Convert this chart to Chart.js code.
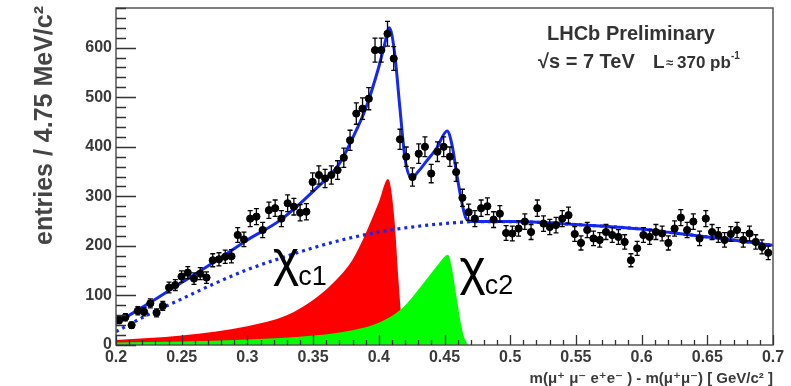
<!DOCTYPE html>
<html>
<head>
<meta charset="utf-8">
<script src="https://cdn.jsdelivr.net/npm/chart.js@4"></script>
<style>
html,body{margin:0;padding:0;background:#fff;}
canvas{display:block;}
</style>
</head>
<body>
<canvas id="c" width="791" height="386"></canvas>
<script>
// ---- data ----
const binStart = 0.2;
const binWidth = 0.00475; // 4.75 MeV/c^2 bins
const counts = [
  50, 56, 40, 69, 67, 84, 65, 79, 116, 121, 138, 146, 134, 144, 136, 171, 173, 178, 179, 222, 213, 255, 259,
  232, 272, 276, 255, 286, 279, 267, 269,
  329, 343, 336, 343, 353, 378, 413, 467, 477, 497,
  595, 595, 628, 578, 415, 380, 339, 386, 400, 346, 390, 400, 380, 349, 297, 268,
  255, 276, 280, 253, 265, 226, 225, 235, 249, 228, 276, 245, 238, 242, 255, 262, 224, 206, 232, 215,
  212, 228, 222, 218, 208, 171, 195, 222, 218, 228, 225, 206, 235, 257, 232, 249, 215, 255, 228, 222,
  212, 224, 232, 212, 225, 208, 198, 186
];
const binCenters = counts.map((_, i) => +(binStart + binWidth * (i + 0.5)).toFixed(6));

// total fit (solid blue)
const fitX = [0.2,0.225,0.25,0.275,0.3,0.325,0.35,0.37,0.38,0.39,0.4,0.404,0.408,0.412,0.416,0.42,0.425,0.43,0.436,0.444,0.452,0.456,0.459,0.463,0.466,0.47,0.475,0.5,0.525,0.55,0.575,0.6,0.625,0.65,0.675,0.7];
const fitY = [44,84,126,168,212,252,310,366,417,477,561,602,640,590,480,376,337,350,370,397,432,400,350,290,258,249,249,249,247,243,239,234,226,218,210,201];

// background (dotted blue)
const bgX = [0.2,0.225,0.25,0.275,0.3,0.325,0.35,0.375,0.4,0.425,0.45,0.475,0.5,0.525,0.55,0.575,0.6,0.625,0.65,0.675,0.7];
const bgY = [27,62,93,124,152,175,196,214,228,238,245,249,249,247,243,239,234,226,218,210,201];

// chi_c1 component (red)
const c1X = [0.2,0.25,0.3,0.33,0.35,0.36,0.37,0.38,0.39,0.4,0.407,0.409,0.412,0.415,0.418,0.42];
const c1Y = [10,19,38,60,91,112,138,172,225,288,335,320,250,130,30,0];

// chi_c2 component (green)
const c2X = [0.2,0.25,0.3,0.35,0.38,0.4,0.416,0.425,0.435,0.445,0.4527,0.456,0.459,0.462,0.465,0.468];
const c2Y = [5,7,11,19,30,45,70,95,128,162,182,150,100,50,15,0];

const yMajor = [0,100,200,300,400,500,600];
const xMajor = [0.2,0.25,0.3,0.35,0.4,0.45,0.5,0.55,0.6,0.65,0.7];
const xMajorLabels = ['0.2','0.25','0.3','0.35','0.4','0.45','0.5','0.55','0.6','0.65','0.7'];

const pts = (xs, ys) => xs.map((x, i) => ({x, y: ys[i]}));
const FONT = '"Liberation Sans", Arial, "DejaVu Sans", sans-serif';
const BLUE = '#1428f0';

const decor = {
  id: 'decor',
  beforeDraw(chart) {
    const ctx = chart.ctx;
    ctx.save();
    ctx.fillStyle = '#fff';
    ctx.fillRect(0, 0, chart.width, chart.height);
    ctx.restore();
  },
  afterDatasetsDraw(chart) {
    const ctx = chart.ctx;
    const xs = chart.scales.x, ys = chart.scales.y;
    const a = chart.chartArea;
    ctx.save();
    // error bars
    ctx.strokeStyle = '#000';
    ctx.lineWidth = 1.3;
    counts.forEach((n, i) => {
      const px = xs.getPixelForValue(binCenters[i]);
      const e = Math.sqrt(n);
      const yt = ys.getPixelForValue(n + e), yb = ys.getPixelForValue(n - e);
      ctx.beginPath();
      ctx.moveTo(px, yt); ctx.lineTo(px, yb);
      ctx.moveTo(px - 2.5, yt); ctx.lineTo(px + 2.5, yt);
      ctx.moveTo(px - 2.5, yb); ctx.lineTo(px + 2.5, yb);
      ctx.stroke();
    });
    // frame
    ctx.strokeStyle = '#555';
    ctx.lineWidth = 1.5;
    ctx.strokeRect(a.left, a.top, a.right - a.left, a.bottom - a.top);
    // y ticks
    ctx.strokeStyle = '#333';
    ctx.lineWidth = 1.3;
    ctx.beginPath();
    for (let v = 0; v <= 680; v += 20) {
      const py = Math.round(ys.getPixelForValue(v)) + 0.5;
      const len = (v % 100 === 0) ? 20 : 10;
      ctx.moveTo(a.left, py); ctx.lineTo(a.left + len, py);
    }
    // x ticks
    for (let k = 0; k <= 50; k++) {
      const v = 0.2 + k * 0.01;
      const px = Math.round(xs.getPixelForValue(v)) + 0.5;
      const len = (k % 5 === 0) ? 10 : 5;
      ctx.moveTo(px, a.bottom); ctx.lineTo(px, a.bottom - len);
    }
    ctx.stroke();
    // tick labels
    ctx.fillStyle = '#3a3a3a';
    ctx.font = 'bold 16px ' + FONT;
    ctx.textAlign = 'right';
    ctx.textBaseline = 'middle';
    yMajor.forEach(v => ctx.fillText(String(v), a.left - 4, ys.getPixelForValue(v)));
    ctx.textAlign = 'center';
    ctx.textBaseline = 'top';
    xMajor.forEach((v, i) => ctx.fillText(xMajorLabels[i], xs.getPixelForValue(v), a.bottom + 5));
    // axis titles
    ctx.font = 'bold 15px ' + FONT;
    ctx.textAlign = 'right';
    ctx.textBaseline = 'alphabetic';
    ctx.fillText('m(\u03bc\u207a \u03bc\u207b e\u207ae\u207b ) - m(\u03bc\u207a\u03bc\u207b) [ GeV/c\u00b2 ]', a.right, 383, 245);
    ctx.save();
    ctx.translate(52, 6);
    ctx.rotate(-Math.PI / 2);
    ctx.font = 'bold 25px ' + FONT;
    ctx.textAlign = 'right';
    ctx.fillStyle = '#454545';
    ctx.fillText('entries / 4.75 MeV/c\u00b2', 0, 0);
    ctx.restore();
    // header text
    ctx.fillStyle = '#333';
    ctx.textAlign = 'left';
    ctx.textBaseline = 'alphabetic';
    ctx.font = 'bold 20px ' + FONT;
    ctx.fillText('LHCb Preliminary', 547, 40, 173);
    ctx.fillText('\u221as = 7 TeV', 538, 68, 99);
    ctx.font = 'bold 19px ' + FONT;
    ctx.fillText('L', 653, 68);
    ctx.font = 'bold 13px ' + FONT;
    ctx.fillText('\u2248', 666, 67);
    ctx.font = 'bold 17px ' + FONT;
    ctx.fillText('370 pb', 677, 68, 54);
    ctx.font = 'bold 10px ' + FONT;
    ctx.fillText('-1', 731, 59);
    // chi labels
    ctx.fillStyle = '#000';
    const chi = (xv, label, base) => {
      const px = xs.getPixelForValue(xv);
      ctx.font = '50px ' + FONT;
      ctx.fillText('\u03c7', px, base);
      const w = ctx.measureText('\u03c7').width;
      ctx.font = '27px ' + FONT;
      ctx.fillText(label, px + w - 1, base + 9);
    };
    chi(0.3195, 'c1', 276);
    chi(0.4615, 'c2', 285);
    ctx.restore();
  }
};

new Chart(document.getElementById('c'), {
  type: 'line',
  data: {
    datasets: [
      { label: 'data', type: 'scatter', data: pts(binCenters, counts), order: 0,
        pointRadius: 3.6, pointBackgroundColor: '#000', pointBorderColor: '#000', showLine: false },
      { label: 'fit', data: pts(fitX, fitY), order: 1, borderColor: BLUE, borderWidth: 3,
        pointRadius: 0, fill: false, cubicInterpolationMode: 'monotone' },
      { label: 'background', data: pts(bgX, bgY), order: 2, borderColor: BLUE, borderWidth: 3.2,
        borderDash: [3, 4], pointRadius: 0, fill: false, cubicInterpolationMode: 'monotone' },
      { label: 'chi_c2', data: pts(c2X, c2Y), order: 3, borderWidth: 0, borderColor: 'rgba(0,0,0,0)',
        backgroundColor: '#00ff00', fill: 'origin', pointRadius: 0, cubicInterpolationMode: 'monotone' },
      { label: 'chi_c1', data: pts(c1X, c1Y), order: 4, borderWidth: 0, borderColor: 'rgba(0,0,0,0)',
        backgroundColor: '#ff0000', fill: 'origin', pointRadius: 0, cubicInterpolationMode: 'monotone' }
    ]
  },
  options: {
    responsive: false,
    animation: false,
    devicePixelRatio: 1,
    layout: { padding: { left: 116, top: 8, right: 18, bottom: 41 } },
    plugins: { legend: { display: false }, tooltip: { enabled: false } },
    scales: {
      x: { type: 'linear', min: 0.2, max: 0.7, display: false },
      y: { type: 'linear', min: 0, max: 680, display: false }
    }
  },
  plugins: [decor]
});
</script>
</body>
</html>
